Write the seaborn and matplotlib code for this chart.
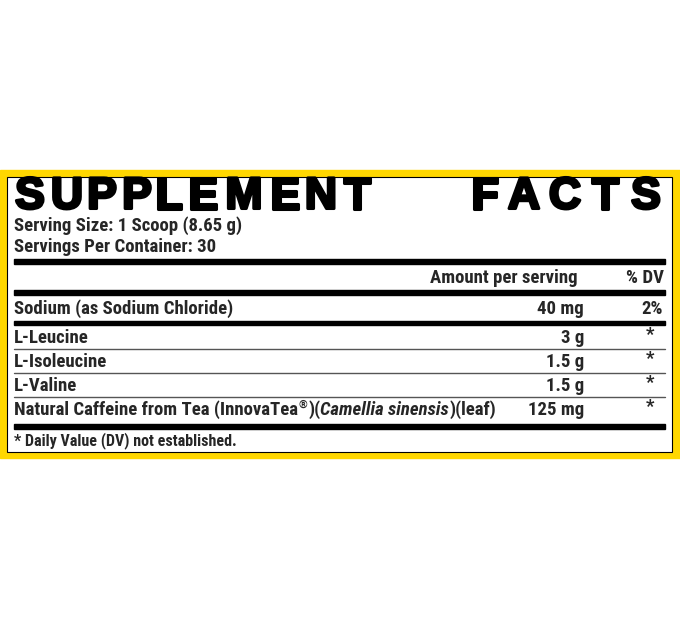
import matplotlib
matplotlib.use("Agg")
import matplotlib.pyplot as plt
import matplotlib.font_manager as fm
import matplotlib.patheffects as pe
import seaborn as sns

sns.set_style("white")

title_letters = list("SUPPLEMENTFACTS")
title_x = [30, 67, 102, 137, 169, 203, 244, 285, 321, 357, 485, 524, 565, 605, 646]
serving_lines = ["Serving Size: 1 Scoop (8.65 g)", "Servings Per Container: 30"]
ingredients = ["Sodium (as Sodium Chloride)", "L-Leucine", "L-Isoleucine", "L-Valine"]
amounts = ["40 mg", "3 g", "1.5 g", "1.5 g", "125 mg"]
dvs = ["2%", "*", "*", "*", "*"]
caffeine_parts = [("Natural Caffeine from Tea (InnovaTea", "normal"), ("®", "sup"),
                  (")(", "normal"), ("Camellia sinensis", "italic"), (")(leaf)", "normal")]
footnote = "* Daily Value (DV) not established."

names = {f.name for f in fm.fontManager.ttflist}
narrow = "Liberation Sans Narrow" if "Liberation Sans Narrow" in names else "Roboto Condensed" if "Roboto Condensed" in names else "Liberation Sans"
plt.rcParams["font.family"] = [narrow, "DejaVu Sans"]

fig = plt.figure(figsize=(6.8, 6.3), dpi=100)
ax = fig.add_axes([0, 0, 1, 1])
ax.set_xlim(0, 680)
ax.set_ylim(630, 0)
ax.axis("off")

ax.add_patch(plt.Rectangle((0, 170), 680, 288, color="#FFD700", zorder=0))
ax.add_patch(plt.Rectangle((7, 177), 665, 275, facecolor="white", edgecolor="black", lw=0.8, zorder=1))

for ch, x in zip(title_letters, title_x):
    ax.text(x, 197, ch, ha="center", va="center", fontsize=32, fontweight="heavy",
            family="Liberation Sans", color="black", zorder=3,
            path_effects=[pe.withStroke(linewidth=2.2, foreground="black")])

fs = 13.5
for y, s in zip([226, 247], serving_lines):
    ax.text(14, y, s, ha="left", va="center", fontsize=fs, fontweight="bold", zorder=3)


def bar(y0, y1):
    ax.add_patch(plt.Rectangle((14, y0), 651, y1 - y0, color="black", zorder=2))


bar(259, 264)
ax.text(578, 278, "Amount per serving", ha="right", va="center", fontsize=fs, fontweight="bold")
ax.text(664, 278, "% DV", ha="right", va="center", fontsize=fs, fontweight="bold")
bar(290, 295)

row_y = [309, 338, 362, 386, 410]
for i, y in enumerate(row_y):
    if i < len(ingredients):
        ax.text(14, y, ingredients[i], ha="left", va="center", fontsize=fs, fontweight="bold")
    ax.text(584, y, amounts[i], ha="right", va="center", fontsize=fs, fontweight="bold")
    if dvs[i] == "*":
        ax.text(650, y - 3, "*", ha="center", va="center", fontsize=fs, fontweight="bold")
    else:
        ax.text(663, y, dvs[i], ha="right", va="center", fontsize=fs, fontweight="bold")

bar(321, 324.5)
for y in [349, 373, 397]:
    ax.plot([14, 665], [y, y], color="#555555", lw=1.0)

# caffeine line with mixed styles
fig.canvas.draw()
r = fig.canvas.get_renderer()
x = 14
inv = ax.transData.inverted()
for s, kind in caffeine_parts:
    kw = dict(ha="left", va="center", fontweight="bold")
    if kind == "sup":
        t = ax.text(x + 0.5, 405, s, fontsize=8, **kw)
    elif kind == "italic":
        t = ax.text(x, 410, s, fontsize=fs, fontstyle="italic", **kw)
    else:
        t = ax.text(x, 410, s, fontsize=fs, **kw)
    bb = t.get_window_extent(r)
    x = inv.transform((bb.x1, bb.y0))[0] + (1 if kind == "sup" else 0)

bar(424, 429)
ax.text(14, 441, footnote, ha="left", va="center", fontsize=11.5, fontweight="bold")

fig.savefig("out.png", dpi=100)
